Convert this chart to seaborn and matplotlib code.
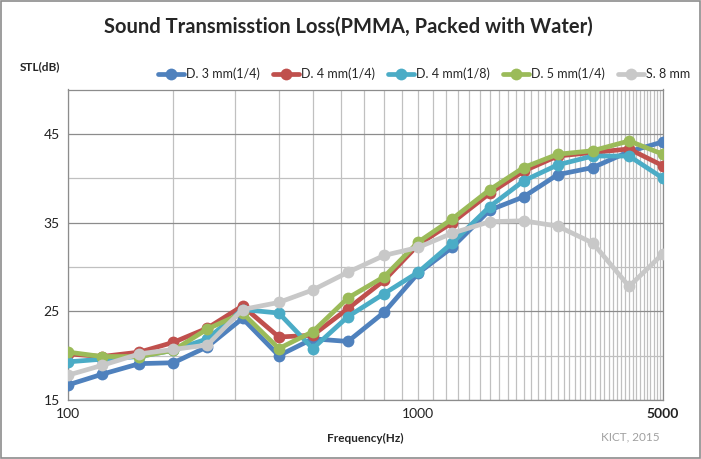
import numpy as np
import pandas as pd
import matplotlib
matplotlib.use('Agg')
import matplotlib.pyplot as plt
import seaborn as sns
from matplotlib.patches import Rectangle

# 1/3 옥타브 대역 주파수
freqs = [100, 125, 160, 200, 250, 315, 400, 500, 630, 800,
         1000, 1250, 1600, 2000, 2500, 3150, 4000, 5000]

d3_14 = [16.7, 17.9, 19.1, 19.2, 21.0, 24.2, 20.0, 21.9, 21.6, 24.9,
         29.3, 32.2, 36.4, 37.9, 40.4, 41.2, 43.0, 44.1]
d4_14 = [20.2, 19.9, 20.4, 21.5, 23.1, 25.6, 22.1, 22.3, 25.3, 28.5,
         32.5, 35.0, 38.3, 40.8, 42.5, 42.9, 43.3, 41.4]
d4_18 = [19.3, 19.6, 19.9, 20.6, 21.9, 25.2, 24.8, 20.8, 24.4, 27.0,
         29.4, 32.7, 36.8, 39.7, 41.5, 42.5, 42.5, 40.0]
d5_14 = [20.4, 19.9, 19.9, 20.6, 23.0, 24.8, 20.8, 22.7, 26.5, 28.9,
         32.8, 35.4, 38.7, 41.2, 42.7, 43.1, 44.2, 42.7]
s8 = [17.8, 18.9, 20.2, 20.7, 21.2, 25.2, 26.0, 27.4, 29.4, 31.3,
      32.2, 33.8, 35.1, 35.2, 34.6, 32.7, 27.8, 31.5]

series_names = ['D. 3 mm(1/4)', 'D. 4 mm(1/4)', 'D. 4 mm(1/8)', 'D. 5 mm(1/4)', 'S. 8 mm']
series_vals = [d3_14, d4_14, d4_18, d5_14, s8]
colors = ['#4F81BD', '#C0504D', '#4BACC6', '#9BBB59', '#C8C8C8']

sns.set_theme(style='white')
plt.rcParams['font.family'] = ['Lato', 'DejaVu Sans']

fig = plt.figure(figsize=(7.01, 4.59), dpi=100)
ax = fig.add_axes([68 / 701, 1 - 400 / 459, (663 - 68) / 701, (400 - 89.5) / 459])

# 그리드
for f in range(100, 5001, 100):
    ax.axvline(f, color='#C0C0C0', lw=0.9, zorder=0)
for v in range(15, 51, 5):
    ax.axhline(v, color='#8C8C8C' if v % 10 == 5 else '#C0C0C0', lw=0.9, zorder=0)

df = pd.DataFrame({'freq': freqs * len(series_names),
                   'stl': sum(series_vals, []),
                   'series': np.repeat(series_names, len(freqs))})
sns.lineplot(data=df, x='freq', y='stl', hue='series', palette=colors,
             marker='o', markersize=8.5, markeredgewidth=0, lw=3.4,
             legend=False, ax=ax, zorder=3)

ax.set_xscale('log')
ax.set_xlim(100, 5000)
ax.set_ylim(15, 50)
ax.set_xticks([100, 1000, 5000])
ax.set_xticklabels(['100', '1000', '5000'])
ax.xaxis.set_minor_locator(matplotlib.ticker.NullLocator())
ax.set_yticks([15, 25, 35, 45])
ax.tick_params(length=0, labelsize=10, colors='#222222', pad=6)
ax.get_xticklabels()[-1].set_fontweight('bold')
ax.set_xlabel('')
ax.set_ylabel('')
for s in ax.spines.values():
    s.set_color('#8C8C8C')
    s.set_linewidth(0.9)

# 범례
handles = [plt.Line2D([], [], color=c, lw=3.4, marker='o', markersize=8.5, markeredgewidth=0)
           for c in colors]
fig.legend(handles, series_names, loc='center', bbox_to_anchor=(424 / 701, 1 - 74 / 459),
           ncol=5, frameon=False, fontsize=9, handlelength=2.1, handletextpad=0.15,
           columnspacing=1.05, borderpad=0)

fig.text(0.497, 1 - 27 / 459, 'Sound Transmisstion Loss(PMMA, Packed with Water)',
         ha='center', va='center', fontsize=14.5, fontweight='bold')
fig.text(20 / 701, 1 - 67 / 459, 'STL(dB)', ha='left', va='center', fontsize=8.5, fontweight='bold')
fig.text(365 / 701, 1 - 438 / 459, 'Frequency(Hz)', ha='center', va='center', fontsize=8.5, fontweight='bold')
fig.text(630 / 701, 1 - 437 / 459, 'KICT, 2015', ha='center', va='center', fontsize=8.5, color='#A0A0A0')

fig.patches.append(Rectangle((0.001, 0.002), 0.997, 0.996, transform=fig.transFigure,
                             fill=False, edgecolor='#8C8C8C', lw=1.2))

fig.savefig('out.png', dpi=100)
